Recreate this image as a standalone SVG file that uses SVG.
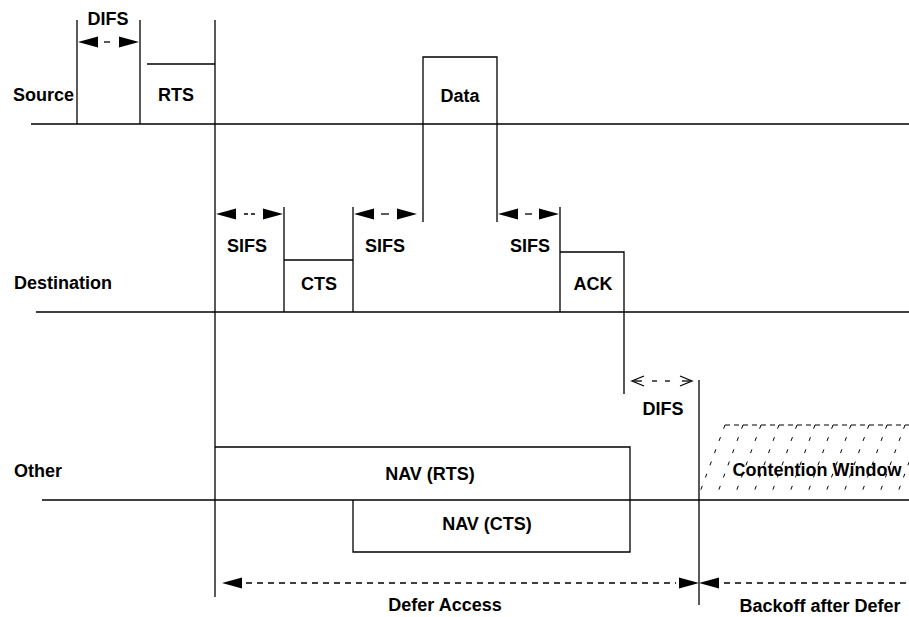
<svg xmlns="http://www.w3.org/2000/svg" width="909" height="617" viewBox="0 0 909 617">
<style>
.ln{stroke:#000;stroke-width:1.3;fill:none}
.dash{stroke:#000;stroke-width:1.3;fill:none;stroke-dasharray:6 5}
.hatch{stroke:#000;stroke-width:1;fill:none;stroke-dasharray:4 9}
.t{font-family:"Liberation Sans",Arial,sans-serif;font-weight:bold;font-size:18px;fill:#000}
.c{text-anchor:middle}
.ah{fill:#000;stroke:none}
</style>
<defs>
<path id="ahL" class="ah" d="M0,0 L20,-5.5 L20,5.5 Z"/>
<path id="ahR" class="ah" d="M0,0 L-20,-5.5 L-20,5.5 Z"/>
</defs>
<rect width="909" height="617" fill="#fff"/>

<g id="timelines">
<line class="ln" x1="31" y1="124" x2="909" y2="124"/>
<line class="ln" x1="36" y1="312" x2="909" y2="312"/>
<line class="ln" x1="42" y1="500" x2="909" y2="500"/>
<line class="ln" x1="215" y1="20" x2="215" y2="597"/>
<line class="ln" x1="699" y1="380" x2="699" y2="605"/>
</g>

<g id="source-labels">
<text class="t" x="13" y="101">Source</text>
<text class="t" x="14" y="289">Destination</text>
<text class="t" x="14" y="477">Other</text>
</g>

<g id="difs1">
<line class="ln" x1="77" y1="20" x2="77" y2="124"/>
<line class="ln" x1="140" y1="20" x2="140" y2="124"/>
<use href="#ahL" x="78" y="42"/>
<use href="#ahR" x="139" y="42"/>
<line class="ln" x1="104" y1="42" x2="110" y2="42"/>
<text class="t c" x="108" y="25">DIFS</text>
</g>

<g id="rts">
<polyline class="ln" points="147,64 215,64"/>
<text class="t c" x="176" y="101">RTS</text>
</g>

<g id="data">
<polyline class="ln" points="423,222 423,57 497,57 497,222"/>
<text class="t c" x="460" y="102">Data</text>
</g>

<g id="sifs1">
<use href="#ahL" x="216" y="214"/>
<use href="#ahR" x="283" y="214"/>
<line class="ln" x1="244" y1="214" x2="255" y2="214" style="stroke-dasharray:4 3"/>
<text class="t c" x="247" y="252">SIFS</text>
</g>

<g id="cts">
<polyline class="ln" points="284,207 284,312"/>
<polyline class="ln" points="284,260 353,260"/>
<polyline class="ln" points="353,207 353,312"/>
<text class="t c" x="319" y="290">CTS</text>
</g>

<g id="sifs2">
<use href="#ahL" x="354" y="214"/>
<use href="#ahR" x="417" y="214"/>
<line class="ln" x1="381" y1="214" x2="389" y2="214"/>
<text class="t c" x="385" y="252">SIFS</text>
</g>

<g id="sifs3">
<use href="#ahL" x="498" y="214"/>
<use href="#ahR" x="559" y="214"/>
<line class="ln" x1="525" y1="214" x2="532" y2="214"/>
<text class="t c" x="530" y="252">SIFS</text>
</g>

<g id="ack">
<polyline class="ln" points="560,207 560,312"/>
<polyline class="ln" points="560,252 624,252 624,394"/>
<text class="t c" x="593" y="290">ACK</text>
</g>

<g id="difs2">
<polyline class="ln" points="644,376 632,381 644,386"/>
<line class="ln" x1="634" y1="381" x2="642" y2="381"/>
<line class="ln" x1="652" y1="381" x2="657" y2="381"/>
<line class="ln" x1="665" y1="381" x2="670" y2="381"/>
<polyline class="ln" points="680,376 692,381 680,386"/>
<line class="ln" x1="682" y1="381" x2="690" y2="381"/>
<text class="t c" x="663" y="415">DIFS</text>
</g>

<g id="nav-rts">
<polyline class="ln" points="215,447 630,447 630,500"/>
<text class="t c" x="430" y="480">NAV (RTS)</text>
</g>

<g id="nav-cts">
<polyline class="ln" points="353,500 353,552 630,552 630,500"/>
<text class="t c" x="487" y="530">NAV (CTS)</text>
</g>

<g id="contention-window">
<line class="ln" x1="725" y1="425" x2="909" y2="425" style="stroke-width:1;stroke-dasharray:5 4"/>
<line class="hatch" x1="725" y1="425" x2="700" y2="492"/>
<line class="hatch" x1="743" y1="425" x2="718" y2="492"/>
<line class="hatch" x1="761" y1="425" x2="736" y2="492"/>
<line class="hatch" x1="779" y1="425" x2="754" y2="492"/>
<line class="hatch" x1="797" y1="425" x2="772" y2="492"/>
<line class="hatch" x1="815" y1="425" x2="790" y2="492"/>
<line class="hatch" x1="833" y1="425" x2="808" y2="492"/>
<line class="hatch" x1="851" y1="425" x2="826" y2="492"/>
<line class="hatch" x1="869" y1="425" x2="844" y2="492"/>
<line class="hatch" x1="887" y1="425" x2="862" y2="492"/>
<line class="hatch" x1="905" y1="425" x2="880" y2="492"/>
<line class="hatch" x1="923" y1="425" x2="898" y2="492"/>
<text class="t c" x="817" y="476">Contention Window</text>
</g>

<g id="connectors">
<use href="#ahL" x="222" y="583"/>
<line class="dash" x1="246" y1="583" x2="676" y2="583"/>
<use href="#ahR" x="699" y="583"/>
<use href="#ahL" x="699" y="583"/>
<line class="dash" x1="724" y1="583" x2="909" y2="583"/>
<text class="t c" x="445" y="611">Defer Access</text>
<text class="t c" x="820" y="612">Backoff after Defer</text>
</g>
</svg>
